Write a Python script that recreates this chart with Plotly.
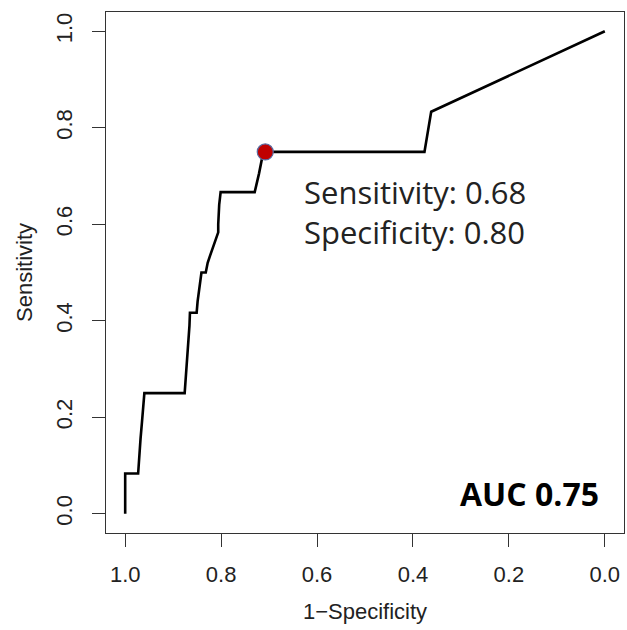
import plotly.graph_objects as go

# ROC curve points (x = specificity axis, reversed)
spec = [1.0, 1.0, 0.973, 0.971, 0.968, 0.965, 0.962, 0.960, 0.876, 0.873, 0.870, 0.868,
        0.866, 0.865, 0.851, 0.849, 0.846, 0.841, 0.832, 0.828, 0.823, 0.818, 0.812, 0.806,
        0.806, 0.804, 0.801, 0.730, 0.721, 0.712, 0.376, 0.362, 0.0]
sens = [0.0, 0.0833, 0.0833, 0.12, 0.155, 0.19, 0.225, 0.25, 0.25, 0.29, 0.33, 0.355,
        0.39, 0.4167, 0.4167, 0.44, 0.465, 0.5, 0.5, 0.52, 0.535, 0.55, 0.565, 0.5833,
        0.6, 0.64, 0.6667, 0.6667, 0.705, 0.75, 0.75, 0.8333, 1.0]

best_spec = [0.708]
best_sens = [0.75]

x_ticks = [1.0, 0.8, 0.6, 0.4, 0.2, 0.0]
y_ticks = [0.0, 0.2, 0.4, 0.6, 0.8, 1.0]
tick_text = ["1.0", "0.8", "0.6", "0.4", "0.2", "0.0"]
y_tick_text = ["0.0", "0.2", "0.4", "0.6", "0.8", "1.0"]

fig = go.Figure()
fig.add_trace(go.Scatter(x=spec, y=sens, mode="lines",
                         line=dict(color="black", width=2.6), hoverinfo="skip"))
fig.add_trace(go.Scatter(x=best_spec, y=best_sens, mode="markers",
                         marker=dict(size=16, color="#C00000",
                                     line=dict(color="#5a6aa0", width=1.2))))

axis_font = dict(family="Liberation Sans, Arial", size=22, color="#222222")

fig.update_layout(
    width=627, height=630,
    margin=dict(l=106, r=3, t=12, b=97),
    paper_bgcolor="white", plot_bgcolor="white",
    showlegend=False,
    font=axis_font,
    xaxis=dict(range=[1.04, -0.04], tickvals=x_ticks, ticktext=tick_text,
               showgrid=False, zeroline=False, showline=True, mirror=True,
               linecolor="#333333", linewidth=1, ticks="outside", ticklen=13,
               tickcolor="#333333", tickfont=axis_font, ticklabelstandoff=9,
               automargin=False,
               title=dict(text="1\u2212Specificity", font=axis_font, standoff=17)),
    yaxis=dict(range=[-0.04, 1.04], tickvals=y_ticks, ticktext=y_tick_text,
               showgrid=False, zeroline=False, showline=True, mirror=True,
               linecolor="#333333", linewidth=1, ticks="outside", ticklen=13,
               tickcolor="#333333", tickangle=-90, tickfont=axis_font,
               ticklabelstandoff=11, automargin=False,
               title=dict(text="Sensitivity", font=axis_font, standoff=13)),
)

ann_font = dict(family="Open Sans", size=31, color="#222222")
fig.add_annotation(x=0.632, y=0.6247, xref="x", yref="y",
                   text="Sensitivity: 0.68<br>Specificity: 0.80",
                   showarrow=False, xanchor="left", yanchor="middle", align="left",
                   font=ann_font)
fig.add_annotation(x=0.157, y=0.042, xref="x", yref="y", text="<b>AUC 0.75</b>",
                   showarrow=False, xanchor="center", yanchor="middle",
                   font=dict(family="Open Sans", size=32, color="black"))

fig.write_html("out.html", config={"displayModeBar": False},
               post_script="document.body.style.margin='0';document.body.style.padding='0';")
